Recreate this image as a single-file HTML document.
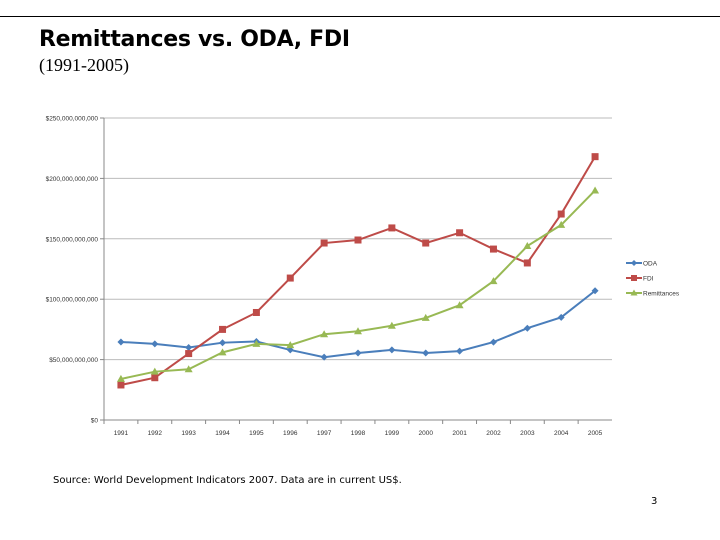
<!DOCTYPE html>
<html><head><meta charset="utf-8"><style>
body{margin:0;width:720px;height:540px;background:#fff;position:relative;overflow:hidden;font-family:"DejaVu Sans","Liberation Sans",sans-serif}
.t{position:absolute;left:39px;top:27px;font-size:22px;font-weight:bold;color:#000;letter-spacing:-0.3px}
.s{position:absolute;left:39px;top:55px;font-family:"Liberation Serif",serif;font-size:18px}
.src{position:absolute;left:53px;top:475px;font-size:10px}
.pg{position:absolute;left:651px;top:496px;font-size:10px}
</style></head><body>
<div style="position:absolute;left:0;top:16px;width:720px;height:1px;background:#000"></div>
<div class="t">Remittances vs. ODA, FDI</div>
<div class="s">(1991-2005)</div>
<svg id="c" width="720" height="540" style="position:absolute;left:0;top:0"></svg>
<div class="src">Source: World Development Indicators 2007. Data are in current US$.</div>
<div class="pg">3</div>
<script>
const years=["1991","1992","1993","1994","1995","1996","1997","1998","1999","2000","2001","2002","2003","2004","2005"];
const oda=[64.6,63,60,64,65,58,52,55.5,58,55.5,57,64.5,76,85,107];
const fdi=[29,35,55,75,89,117.5,146.5,149,159,146.5,155,141.5,130,170.5,218];
const rem=[34,40,42,56,63,62,71,73.5,78,84.5,95,115,144,161.5,190];
const yTicks=[0,50,100,150,200,250];
const yTickLabels=["$0","$50,000,000,000","$100,000,000,000","$150,000,000,000","$200,000,000,000","$250,000,000,000"];
const seriesNames=["ODA","FDI","Remittances"];
const NS="http://www.w3.org/2000/svg",svg=document.getElementById('c');
const L=104,R=612,T=118,B=420;
const bw=(R-L)/years.length;
const x=i=>L+bw*(i+0.5), y=v=>B-(v/250)*(B-T);
function mk(t,a,p){const e=document.createElementNS(NS,t);for(const k in a)e.setAttribute(k,a[k]);(p||svg).appendChild(e);return e;}
yTicks.forEach((v,i)=>{
 if(v>0){const g=mk('line',{x1:L,x2:R,y1:y(v),y2:y(v),stroke:'#bbb','stroke-width':1});
 
 }
 mk('line',{x1:L-4,x2:L,y1:y(v),y2:y(v),stroke:'#888'});
 const t=mk('text',{x:L-6,y:y(v)+2.5,'text-anchor':'end','font-size':6.5,fill:'#333','font-family':'Liberation Sans, sans-serif'});
 t.textContent=yTickLabels[i];
 
 
});
mk('line',{x1:L,x2:L,y1:T,y2:B,stroke:'#888'});
mk('line',{x1:L,x2:R,y1:B,y2:B,stroke:'#888'});
years.forEach((yr,i)=>{
 mk('line',{x1:L+bw*i,x2:L+bw*i,y1:B,y2:B+4,stroke:'#888'});
 const t=mk('text',{x:x(i),y:B+15,'text-anchor':'middle','font-size':6.5,fill:'#333','font-family':'Liberation Sans, sans-serif'});
 t.textContent=yr;
 
 
});
const cols=["#4a7ebb","#be4b48","#98b954"];
[oda,fdi,rem].forEach((d,s)=>{
 const pl=mk('polyline',{points:d.map((v,i)=>x(i)+','+y(v)).join(' '),fill:'none',stroke:cols[s],'stroke-width':2});
 
 
 d.forEach((v,i)=>{
  let m;const cx=x(i),cy=y(v);
  if(s==0)m=mk('polygon',{points:`${cx},${cy-3.5} ${cx+3.5},${cy} ${cx},${cy+3.5} ${cx-3.5},${cy}`,fill:cols[s]});
  else if(s==1)m=mk('rect',{x:cx-3.5,y:cy-3.5,width:7,height:7,fill:cols[s]});
  else m=mk('polygon',{points:`${cx},${cy-4} ${cx+4},${cy+3} ${cx-4},${cy+3}`,fill:cols[s]});
  
  
 });
 const ly=263+s*15;
 const ll=mk('line',{x1:626,x2:642,y1:ly,y2:ly,stroke:cols[s],'stroke-width':2});
 
 
 if(s==0)mk('polygon',{points:`634,${ly-3} 637,${ly} 634,${ly+3} 631,${ly}`,fill:cols[s]});
 else if(s==1)mk('rect',{x:631,y:ly-3,width:6,height:6,fill:cols[s]});
 else mk('polygon',{points:`634,${ly-3.5} 637.5,${ly+2.5} 630.5,${ly+2.5}`,fill:cols[s]});
 const lt=mk('text',{x:643,y:ly+2.5,'font-size':6.5,fill:'#333','font-family':'Liberation Sans, sans-serif'});
 lt.textContent=seriesNames[s];
 
 
});
</script>
</body></html>
